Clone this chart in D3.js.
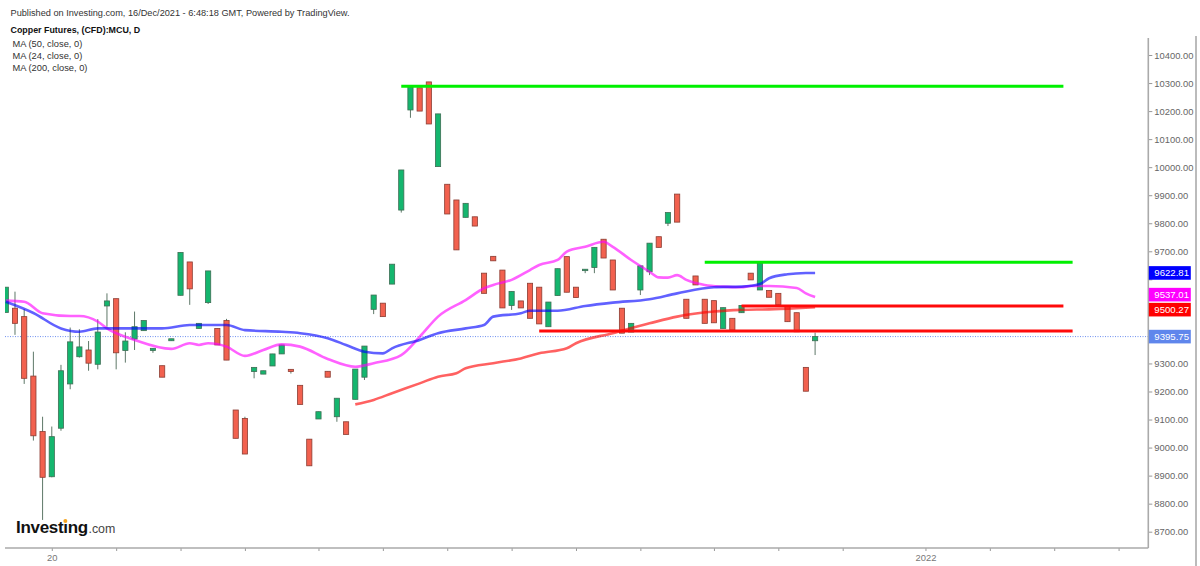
<!DOCTYPE html>
<html><head><meta charset="utf-8">
<script src="https://cdn.jsdelivr.net/npm/d3@7"></script>
<style>body{margin:0;background:#fff}svg{display:block;font-family:"Liberation Sans",Arial,sans-serif}</style>
</head><body><svg id="c" width="1200" height="566"></svg>
<script>
// ---- data ----
const opens  = [9482,9497,9467,9255,9057,8896,9069,9227,9324,9348,9297,9505,9531,9346,9387,9417,9346,9292,9381,9543,9662,9425,9517,9425,9453,9134,9104,9271,9262,9291,9334,9279,9222,9030,9102,9272,9110,9092,9172,9251,9493,9515,9583,9847,10204,10283,10304,10002,9939,9883,9821,9823,9622,9682,9633,9507,9523,9586,9572,9431,9542,9681,9572,9631,9642,9743,9669,9497,9412,9562,9627,9752,9800,9904,9529,9612,9529,9524,9425,9461,9481,9622,9562,9560,9550,9505,9481,9286,9381];
const highs  = [9572,9556,9494,9342,9110,9075,9295,9428,9422,9380,9458,9550,9531,9411,9485,9453,9354,9292,9388,9696,9662,9443,9630,9425,9459,9134,9110,9286,9274,9334,9366,9279,9222,9030,9128,9272,9176,9092,9280,9362,9544,9515,9654,9990,10285,10283,10304,10190,9939,9883,9871,9823,9622,9682,9633,9557,9523,9586,9572,9519,9638,9681,9572,9636,9714,9743,9669,9497,9443,9648,9729,9752,9838,9904,9529,9612,9529,9524,9499,9461,9507,9622,9657,9560,9550,9505,9481,9286,9410];
const lows   = [9482,9402,9227,9025,8742,8894,9060,9208,9321,9274,9279,9431,9279,9303,9348,9417,9338,9251,9381,9543,9509,9425,9512,9366,9312,9033,8977,9247,9262,9291,9334,9264,9154,8935,9102,9251,9092,9047,9172,9241,9476,9467,9583,9838,10176,10200,10154,10002,9833,9705,9821,9790,9550,9666,9498,9491,9498,9461,9441,9431,9542,9554,9535,9622,9622,9676,9562,9408,9412,9544,9615,9714,9790,9804,9461,9580,9443,9445,9425,9419,9481,9598,9562,9536,9509,9449,9413,9201,9330];
const closes = [9572,9443,9247,9042,8894,9039,9274,9377,9359,9301,9412,9523,9338,9380,9431,9453,9354,9251,9388,9696,9566,9443,9630,9366,9312,9033,8977,9286,9274,9334,9366,9271,9154,8935,9128,9251,9176,9047,9280,9362,9544,9467,9654,9990,10285,10200,10154,10190,9833,9705,9871,9790,9550,9666,9498,9557,9498,9461,9441,9519,9638,9554,9535,9636,9714,9676,9562,9408,9443,9648,9729,9714,9838,9804,9461,9580,9443,9445,9499,9419,9507,9598,9657,9536,9509,9449,9413,9201,9395.75];

const ma50Idx = [0,3,6,8,10,14,17,20,24,26,30,32,35,37,39,41,42,45,47,50,52,53,56,57,60,63,66,70,73,77,80,82,83,85,87,88];
const ma50Val = [9520,9480,9425,9413,9425,9425,9425,9437,9437,9419,9413,9408,9390,9366,9342,9336,9354,9384,9408,9425,9437,9467,9479,9488,9488,9505,9517,9529,9550,9572,9574,9583,9604,9618,9622.5,9622.81];
const ma24Idx = [0,2,4,7,8,10,11,14,18,20,21,22,24,26,28,30,32,35,38,40,43,45,47,50,52,53,55,57,58,60,61,63,65,66,68,70,71,72,73,74,76,78,80,81,83,86,87,88];
const ma24Val = [9524,9520,9479,9469,9469,9449,9425,9384,9352,9372,9366,9372,9360,9327,9348,9368,9360,9316,9288,9301,9330,9395,9467,9526,9568,9580,9598,9633,9651,9669,9699,9716,9734,9716,9669,9627,9607,9606,9615,9598,9580,9574,9572,9576,9576,9569,9550,9537.01];
const ma200Idx = [38,40,42,45,47,49,50,53,56,58,61,62,66,70,73,77,80,83,86,88];
const ma200Val = [9154,9170,9194,9229,9253,9265,9283,9301,9318,9336,9354,9372,9408,9443,9467,9485,9491,9493,9497,9500.27];

const levelPrice = [10289,9661,9505,9416];
const levelFrom  = [43,76,80,58];
const levelTo    = [115,116,115,116];

const priceTicks = [8700,8800,8900,9000,9100,9200,9300,9400,9500,9600,9700,9800,9900,10000,10100,10200,10300,10400];
const xTickIdx    = [5,12,19,26,34,41,48,55,62,69,77,84,91,100,107,114,121];
const xTickLabels = ["20","","","","","","","","","","","","","2022","","",""];

const maLastLabels = ["9622.81","9537.01","9500.27"];
const lastPrice = 9395.75;

const headerLines = ["Published on Investing.com, 16/Dec/2021 - 6:48:18 GMT, Powered by TradingView.","Copper Futures, (CFD):MCU, D"];
const legendLines = ["MA (50, close, 0)","MA (24, close, 0)","MA (200, close, 0)"];

// ---- drawing ----
const svg = d3.select("#c");
const x = d3.scaleLinear().domain([0,88]).range([5.8,815.1]);
const y = d3.scaleLinear().domain([8700,10400]).range([531.7,55]);
const plotL=5, plotR=1148.3, plotT=36, plotB=548;

svg.append("defs").append("clipPath").attr("id","clip")
  .append("rect").attr("x",plotL).attr("y",plotT).attr("width",plotR-plotL).attr("height",plotB-plotT);

// header
svg.append("text").attr("x",10.5).attr("y",16).attr("font-size",9.2).attr("fill","#333").text(headerLines[0]);
svg.append("text").attr("x",10.5).attr("y",33).attr("font-size",8.9).attr("font-weight","bold").attr("fill","#111").text(headerLines[1]);
svg.selectAll(".leg").data(legendLines).enter().append("text").attr("class","leg")
  .attr("x",12.5).attr("y",(d,i)=>47+i*11.8).attr("font-size",9.3).attr("fill","#333").text(d=>d);

const plot = svg.append("g").attr("clip-path","url(#clip)");

// last price dotted line
plot.append("line").attr("x1",plotL).attr("x2",plotR).attr("y1",y(lastPrice)).attr("y2",y(lastPrice))
  .attr("stroke","#6d8ff0").attr("stroke-width",1).attr("stroke-dasharray","1,1.5");

// candles
const idx = d3.range(opens.length);
const bw = 5.2;
const cg = plot.append("g");
cg.selectAll(".wick").data(idx).enter().append("line")
  .attr("x1",i=>x(i)).attr("x2",i=>x(i)).attr("y1",i=>y(highs[i])).attr("y2",i=>y(lows[i]))
  .attr("stroke","#5e7868").attr("stroke-width",1);
cg.selectAll(".body").data(idx).enter().append("rect")
  .attr("x",i=>x(i)-bw/2).attr("width",bw)
  .attr("y",i=>y(Math.max(opens[i],closes[i])))
  .attr("height",i=>Math.max(1.2,Math.abs(y(opens[i])-y(closes[i]))))
  .attr("fill",i=>closes[i]>=opens[i]?"#14b66e":"#f2614f")
  .attr("stroke",i=>closes[i]>=opens[i]?"#3f6e55":"#8c3d33")
  .attr("stroke-width",0.8);

// moving averages
const line = d3.line().x(d=>x(d[0])).y(d=>y(d[1])).curve(d3.curveMonotoneX);
function drawMA(ix, vals, color){
  plot.append("path").datum(ix.map((d,i)=>[d,vals[i]])).attr("d",line)
    .attr("fill","none").attr("stroke",color).attr("stroke-opacity",0.62).attr("stroke-width",2.6)
    .attr("stroke-linejoin","round");
}
drawMA(ma200Idx, ma200Val, "#ff0000");
drawMA(ma24Idx, ma24Val, "#ff00ff");
drawMA(ma50Idx, ma50Val, "#0000ff");

// horizontal levels
const levelColor = ["#00f000","#00f000","#ff0a0a","#ff0a0a"];
levelPrice.forEach((p,i)=>{
  plot.append("line").attr("x1",x(levelFrom[i])).attr("x2",x(levelTo[i]))
    .attr("y1",y(p)).attr("y2",y(p)).attr("stroke",levelColor[i]).attr("stroke-width",3);
});

// value tag positions
let yBlue = y(+maLastLabels[0]), yMag = y(+maLastLabels[1]), yRed = y(+maLastLabels[2]);
const gap = 15;
if (yRed - yMag < gap){ const d=(gap-(yRed-yMag))/2; yMag-=d; yRed+=d; }
const tagYs = [yBlue, yMag, yRed, y(lastPrice)];

// right price axis (tick labels hidden where a value tag covers them)
const ya = svg.append("g").attr("transform",`translate(${plotR},0)`)
  .call(d3.axisRight(y).tickValues(priceTicks).tickSize(4).tickPadding(2).tickFormat(d3.format(".2f")));
ya.select(".domain").remove();
ya.selectAll("line").attr("stroke","#999");
ya.selectAll("text").attr("font-size",9.4).attr("fill","#666").attr("font-family","Liberation Sans, Arial, sans-serif");
ya.selectAll(".tick").filter(d=>tagYs.some(t=>Math.abs(t-y(d))<12)).select("text").remove();
svg.append("line").attr("x1",plotR).attr("x2",plotR).attr("y1",38).attr("y2",plotB).attr("stroke","#aaa").attr("stroke-width",1.6);
svg.append("line").attr("x1",1196).attr("x2",1196).attr("y1",36).attr("y2",566).attr("stroke","#aaa").attr("stroke-width",1.6);

// bottom axis
const xa = svg.append("g").attr("transform",`translate(0,${plotB})`)
  .call(d3.axisBottom(x).tickValues(xTickIdx).tickSize(3).tickPadding(3).tickFormat((d,i)=>xTickLabels[i]));
xa.select(".domain").remove();
xa.selectAll("line").attr("stroke","#999");
xa.selectAll("text").attr("font-size",9.4).attr("fill","#777").attr("font-family","Liberation Sans, Arial, sans-serif");
svg.append("line").attr("x1",plotL).attr("x2",plotR).attr("y1",plotB).attr("y2",plotB).attr("stroke","#aaa").attr("stroke-width",1.6);

// value labels on the axis
function tag(label, val, color){
  const g = svg.append("g");
  g.append("rect").attr("x",plotR+0.5).attr("y",val-6.8).attr("width",42).attr("height",13.6).attr("fill",color);
  g.append("text").attr("x",plotR+6).attr("y",val+3.4).attr("font-size",9.6).attr("fill","#fff").text(label);
}
tag(lastPrice.toFixed(2), tagYs[3], "#5f86ec");
tag(maLastLabels[0], tagYs[0], "#0000ff");
tag(maLastLabels[1], tagYs[1], "#ff00ff");
tag(maLastLabels[2], tagYs[2], "#ff0000");

// Investing.com logo
const logo = svg.append("text").attr("x",16).attr("y",533).attr("fill","#111");
logo.append("tspan").attr("font-size",17).attr("font-weight","bold").attr("letter-spacing",-0.3).text("Investıng");
logo.append("tspan").attr("font-size",12.4).attr("fill","#444").attr("dx",0.5).text(".com");
try{
  const ext = logo.node().getExtentOfChar(6);
  svg.append("circle").attr("cx",ext.x+ext.width/2-0.2).attr("cy",521).attr("r",2).attr("fill","#f5a623");
}catch(e){}
</script></body></html>
